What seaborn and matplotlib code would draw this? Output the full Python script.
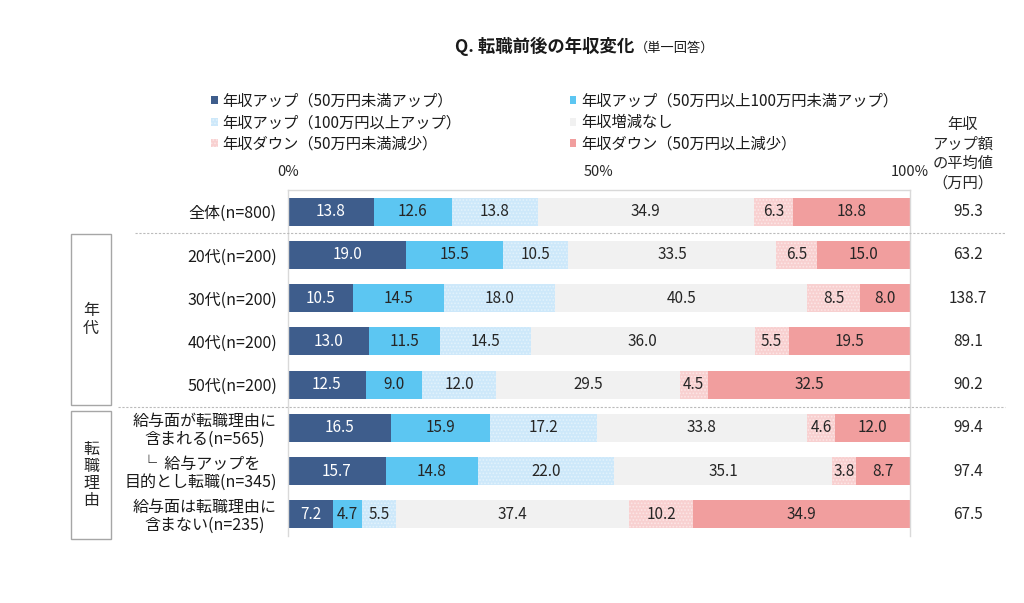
import numpy as np
import pandas as pd
import matplotlib
matplotlib.use("Agg")
import matplotlib.pyplot as plt
import seaborn as sns
from matplotlib.patches import Patch, Rectangle
from matplotlib.lines import Line2D

# ---------------- data ----------------
categories = [
    "全体(n=800)",
    "20代(n=200)",
    "30代(n=200)",
    "40代(n=200)",
    "50代(n=200)",
    "給与面が転職理由に\n含まれる(n=565)",
    "└  給与アップを\n目的とし転職(n=345)",
    "給与面は転職理由に\n含まない(n=235)",
]
series_names = [
    "年収アップ（50万円未満アップ）",
    "年収アップ（50万円以上100万円未満アップ）",
    "年収アップ（100万円以上アップ）",
    "年収増減なし",
    "年収ダウン（50万円未満減少）",
    "年収ダウン（50万円以上減少）",
]
up_lt50 = [13.8, 19.0, 10.5, 13.0, 12.5, 16.5, 15.7, 7.2]
up_50_100 = [12.6, 15.5, 14.5, 11.5, 9.0, 15.9, 14.8, 4.7]
up_ge100 = [13.8, 10.5, 18.0, 14.5, 12.0, 17.2, 22.0, 5.5]
no_change = [34.9, 33.5, 40.5, 36.0, 29.5, 33.8, 35.1, 37.4]
down_lt50 = [6.3, 6.5, 8.5, 5.5, 4.5, 4.6, 3.8, 10.2]
down_ge50 = [18.8, 15.0, 8.0, 19.5, 32.5, 12.0, 8.7, 34.9]
avg_up = [95.3, 63.2, 138.7, 89.1, 90.2, 99.4, 97.4, 67.5]
xtick_vals = [0, 50, 100]
xtick_labels = ["0%", "50%", "100%"]
avg_header = "年収\nアップ額\nの平均値\n（万円）"
title_main = "Q. 転職前後の年収変化"
title_sub = "（単一回答）"
group_labels = ["年\n代", "転\n職\n理\n由"]

colors = ["#3E5D8C", "#5CC6F2", "#CDE8FA", "#F1F1F1", "#F8D0D0", "#F19E9E"]
hatch_colors = ["none", "none", "#E2F2FC", "none", "#FCE6E6", "none"]
hatches = [None, None, ".....", None, ".....", None]
text_colors = ["white", "#262626", "#262626", "#262626", "#262626", "#262626"]

# ---------------- setup ----------------
sns.set_theme(style="white")
plt.rcParams["font.family"] = ["Noto Sans CJK JP", "DejaVu Sans"]
plt.rcParams["hatch.linewidth"] = 0.8

fig = plt.figure(figsize=(10.24, 6.03), dpi=100)
W, H = 1024, 603
ax_left, ax_right, ax_top, ax_bot = 288, 910, 190, 536
ax = fig.add_axes([ax_left / W, 1 - ax_bot / H, (ax_right - ax_left) / W, (ax_bot - ax_top) / H])

series = [up_lt50, up_50_100, up_ge100, no_change, down_lt50, down_ge50]
vals = np.array(series, dtype=float)  # (6, 8)
totals = vals.sum(axis=0)
scaled = vals / totals * 100.0
cum = np.cumsum(scaled, axis=0)

df = pd.DataFrame({"category": categories})
for k in range(len(series) - 1, -1, -1):
    df["cum"] = cum[k]
    sns.barplot(
        data=df, x="cum", y="category", order=categories, orient="h",
        color=colors[k], saturation=1, width=0.65, ax=ax,
        hatch=hatches[k], edgecolor=hatch_colors[k] if hatches[k] else colors[k],
        linewidth=0,
    )

# value labels
for i in range(len(categories)):
    start = 0.0
    for k in range(len(series)):
        w = scaled[k, i]
        ax.text(start + w / 2, i, f"{vals[k, i]:.1f}", ha="center", va="center",
                fontsize=11, color=text_colors[k])
        start += w

ax.set_xlim(0, 100)
ax.set_ylim(len(categories) - 0.5, -0.5)
ax.set_xlabel("")
ax.set_ylabel("")
ax.xaxis.tick_top()
ax.set_xticks(xtick_vals)
ax.set_xticklabels(xtick_labels, fontsize=10.5, color="#262626")
ax.tick_params(axis="x", length=0, pad=8)
ax.tick_params(axis="y", length=0, pad=8, labelsize=11.5, labelcolor="#1A1A1A")
for t in ax.get_yticklabels():
    t.set_multialignment("center")
    t.set_linespacing(1.05)
for s in ["top", "left", "right"]:
    ax.spines[s].set_color("#D9D9D9")
    ax.spines[s].set_linewidth(1.0)
ax.spines["bottom"].set_visible(False)

# average column
for i, v in enumerate(avg_up):
    ax.text(1.093, i, f"{v:.1f}", transform=ax.get_yaxis_transform(), ha="center",
            va="center", fontsize=11, color="#262626")
fig.text(963 / W, 1 - 154 / H, avg_header, ha="center", va="center", fontsize=11,
         linespacing=1.2, color="#262626")

# separators
for (x0, yy) in [(135, 233), (118, 407)]:
    fig.add_artist(Line2D([x0 / W, 1005 / W], [1 - yy / H, 1 - yy / H],
                          color="#BBBBBB", linewidth=0.8, linestyle=(0, (2, 1.5))))

# group boxes
for (y0, y1), lab in zip([(234, 405), (411, 539)], group_labels):
    fig.add_artist(Rectangle((71 / W, 1 - y1 / H), 40 / W, (y1 - y0) / H,
                             fill=False, edgecolor="#A6A6A6", linewidth=1.0))
    fig.text(91 / W, 1 - (y0 + y1) / 2 / H, lab, ha="center", va="center",
             fontsize=11.5, linespacing=1.0, color="#262626")

# legend (row-major order reproduced)
handles = [Patch(facecolor=colors[k], edgecolor=hatch_colors[k] if hatches[k] else colors[k],
                 hatch=hatches[k], linewidth=0) for k in range(6)]
order = [0, 2, 4, 1, 3, 5]
fig.legend([handles[k] for k in order], [series_names[k] for k in order],
           ncol=2, loc="upper left", bbox_to_anchor=(203 / W, 1 - 85 / H),
           frameon=False, fontsize=11, handlelength=0.45, handleheight=0.45,
           handletextpad=0.3, columnspacing=7.1, labelspacing=0.3, borderpad=0,
           labelcolor="#1A1A1A")

# title
fig.text(455 / W, 1 - 52 / H, title_main, ha="left", va="baseline", fontsize=12.5,
         fontweight="bold", color="#1A1A1A")
fig.text(635 / W, 1 - 52 / H, title_sub, ha="left", va="baseline", fontsize=9.5,
         color="#1A1A1A")

fig.savefig("out.png", dpi=100)
